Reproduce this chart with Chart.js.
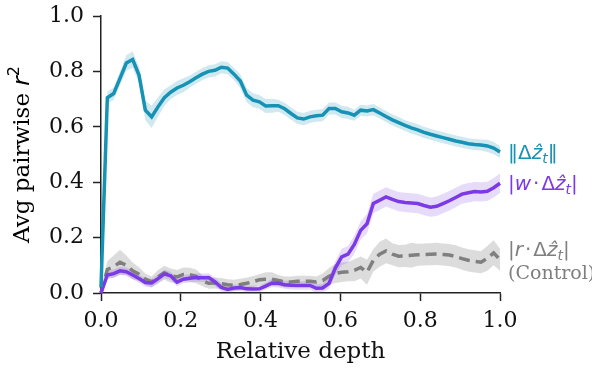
<!DOCTYPE html>
<html>
<head>
<meta charset="utf-8">
<script src="https://cdn.jsdelivr.net/npm/chart.js@4"></script>
<style>
  html, body { margin: 0; padding: 0; background: #fff; }
  #wrap { width: 592px; height: 369px; }
</style>
</head>
<body>
<div id="wrap"><canvas id="depthChart" width="592" height="369"></canvas></div>
<script>
// layer positions (64 layers spread over relative depth 0..1)
const depths = Array.from({ length: 64 }, (_, i) => i / 63);

const xTicks = [0, 0.2, 0.4, 0.6, 0.8, 1.0];
const yTicks = [0, 0.2, 0.4, 0.6, 0.8, 1.0];

// ||dz|| (cyan)
const normValues = [
    0.02, 0.705, 0.72, 0.775, 0.83, 0.843, 0.787, 0.66,
    0.636, 0.672, 0.705, 0.725, 0.74, 0.75, 0.763, 0.777,
    0.79, 0.80, 0.804, 0.815, 0.812, 0.79, 0.765, 0.714,
    0.696, 0.69, 0.675, 0.676, 0.676, 0.665, 0.648, 0.632,
    0.628, 0.636, 0.64, 0.642, 0.666, 0.666, 0.654, 0.65,
    0.642, 0.66, 0.657, 0.662, 0.65, 0.637, 0.625, 0.615,
    0.605, 0.596, 0.589, 0.58, 0.573, 0.567, 0.561, 0.555,
    0.549, 0.544, 0.539, 0.536, 0.534, 0.531, 0.523, 0.509
];
const normErr = [
    0.01, 0.022, 0.022, 0.025, 0.028, 0.03, 0.03, 0.035,
    0.04, 0.035, 0.03, 0.025, 0.025, 0.025, 0.022, 0.022,
    0.022, 0.022, 0.022, 0.022, 0.022, 0.022, 0.025, 0.025,
    0.025, 0.025, 0.025, 0.025, 0.022, 0.022, 0.022, 0.022,
    0.022, 0.022, 0.022, 0.022, 0.022, 0.022, 0.022, 0.022,
    0.02, 0.02, 0.02, 0.02, 0.02, 0.02, 0.02, 0.02,
    0.02, 0.02, 0.02, 0.02, 0.02, 0.02, 0.02, 0.02,
    0.02, 0.02, 0.02, 0.02, 0.02, 0.022, 0.022, 0.022
];

// |w . dz| (purple)
const wValues = [
    0.0, 0.065, 0.07, 0.08, 0.077, 0.065, 0.052, 0.038,
    0.036, 0.052, 0.069, 0.062, 0.039, 0.05, 0.053, 0.056,
    0.055, 0.056, 0.04, 0.02, 0.013, 0.018, 0.02, 0.015,
    0.014, 0.015, 0.025, 0.036, 0.035, 0.03, 0.028, 0.027,
    0.027, 0.027, 0.017, 0.018, 0.035, 0.09, 0.13, 0.14,
    0.175, 0.226, 0.25, 0.323, 0.335, 0.347, 0.338, 0.33,
    0.327, 0.325, 0.323, 0.316, 0.31, 0.313, 0.323, 0.333,
    0.345, 0.357, 0.362, 0.366, 0.365, 0.367, 0.38, 0.396
];
const wErr = [
    0.005, 0.015, 0.015, 0.015, 0.015, 0.015, 0.015, 0.015,
    0.015, 0.015, 0.015, 0.015, 0.015, 0.015, 0.015, 0.015,
    0.015, 0.015, 0.015, 0.015, 0.012, 0.012, 0.012, 0.012,
    0.012, 0.012, 0.012, 0.015, 0.015, 0.015, 0.015, 0.015,
    0.015, 0.015, 0.015, 0.015, 0.02, 0.025, 0.03, 0.03,
    0.033, 0.033, 0.035, 0.035, 0.035, 0.035, 0.035, 0.035,
    0.035, 0.035, 0.035, 0.035, 0.035, 0.035, 0.035, 0.035,
    0.035, 0.035, 0.035, 0.035, 0.035, 0.035, 0.035, 0.035
];

// |r . dz| control (grey, dashed)
const rValues = [
    0.0, 0.085, 0.095, 0.111, 0.1, 0.08, 0.068, 0.05,
    0.04, 0.058, 0.073, 0.063, 0.058, 0.067, 0.066, 0.06,
    0.045, 0.035, 0.036, 0.034, 0.03, 0.028, 0.031, 0.035,
    0.041, 0.048, 0.05, 0.05, 0.045, 0.04, 0.04, 0.042,
    0.042, 0.042, 0.04, 0.045, 0.06, 0.071, 0.075, 0.077,
    0.082, 0.092, 0.075, 0.118, 0.14, 0.152, 0.14, 0.133,
    0.134, 0.136, 0.138, 0.139, 0.14, 0.141, 0.139, 0.137,
    0.132, 0.124, 0.118, 0.114, 0.111, 0.125, 0.145, 0.12
];
const rErr = [
    0.01, 0.03, 0.04, 0.045, 0.035, 0.03, 0.025, 0.02,
    0.02, 0.025, 0.025, 0.025, 0.025, 0.025, 0.025, 0.025,
    0.02, 0.02, 0.02, 0.02, 0.02, 0.02, 0.02, 0.02,
    0.02, 0.02, 0.025, 0.025, 0.02, 0.02, 0.02, 0.02,
    0.02, 0.02, 0.02, 0.025, 0.03, 0.035, 0.035, 0.035,
    0.04, 0.04, 0.045, 0.04, 0.045, 0.045, 0.04, 0.04,
    0.04, 0.045, 0.04, 0.04, 0.04, 0.04, 0.04, 0.04,
    0.04, 0.04, 0.04, 0.04, 0.04, 0.045, 0.045, 0.04
];

const CYAN = "#1592b4";
const PURPLE = "#7b3ae6";
const GREY = "#7f7f7f";

const SERIF = "'DejaVu Serif', serif";
const SANS = "'DejaVu Sans', sans-serif";

function points(values, err, sign) {
    return depths.map((d, i) => ({ x: d, y: Math.max(0, values[i] + sign * err[i]) }));
}

function lineSet(values, color, dash) {
    return {
        data: depths.map((d, i) => ({ x: d, y: values[i] })),
        borderColor: color,
        borderWidth: 3.5,
        borderDash: dash || [],
        pointRadius: 0,
        tension: 0,
        fill: false,
        clip: 6
    };
}

function bandSet(values, err, sign, fillColor, fillTarget) {
    return {
        data: points(values, err, sign),
        borderWidth: 0,
        borderColor: "rgba(0,0,0,0)",
        pointRadius: 0,
        tension: 0,
        backgroundColor: fillColor,
        fill: fillTarget,
        clip: 6
    };
}

// lines first so they are drawn on top, bands afterwards
const datasets = [
    lineSet(normValues, CYAN),
    lineSet(wValues, PURPLE),
    lineSet(rValues, GREY, [11, 6]),
    bandSet(normValues, normErr, -1, "rgba(0,0,0,0)", false),
    bandSet(normValues, normErr, 1, "rgba(21,146,180,0.2)", 3),
    bandSet(wValues, wErr, -1, "rgba(0,0,0,0)", false),
    bandSet(wValues, wErr, 1, "rgba(123,58,230,0.18)", 5),
    bandSet(rValues, rErr, -1, "rgba(0,0,0,0)", false),
    bandSet(rValues, rErr, 1, "rgba(128,128,128,0.28)", 7)
];

// draw a row of text pieces (font, text, baseline shift) starting at x
function drawRuns(ctx, runs, x, y, color) {
    ctx.fillStyle = color;
    ctx.textAlign = "left";
    ctx.textBaseline = "alphabetic";
    let cx = x;
    runs.forEach(r => {
        ctx.font = r[0];
        ctx.fillText(r[1], cx, y + (r[2] || 0));
        cx += ctx.measureText(r[1]).width;
    });
    return cx - x;
}

function runsWidth(ctx, runs) {
    let w = 0;
    runs.forEach(r => { ctx.font = r[0]; w += ctx.measureText(r[1]).width; });
    return w;
}

const labelPlugin = {
    id: "labels",
    afterDraw(chart) {
        const ctx = chart.ctx;
        const area = chart.chartArea;
        const ys = chart.scales.y;
        const m = "20px " + SANS;
        const mi = "italic 20px " + SANS;
        const sub = "italic 14px " + SANS;
        const dot = "20px " + SANS;
        ctx.save();

        const x0 = area.right + 8;
        let y = ys.getPixelForValue(normValues[63]) + 7;
        drawRuns(ctx, [[m, "\u2016"], [m, "\u0394"], [mi, "\u1e91"], [sub, "t", 4], [m, "\u2016"]], x0, y, CYAN);

        y = ys.getPixelForValue(wValues[63]) + 7;
        drawRuns(ctx, [[m, "|"], [mi, "w"], [dot, "\u200a\u00b7\u200a"], [m, "\u0394"], [mi, "\u1e91"], [sub, "t", 4], [m, "|"]], x0, y, PURPLE);

        y = ys.getPixelForValue(rValues[63]);
        drawRuns(ctx, [[m, "|"], [mi, "r"], [dot, "\u200a\u00b7\u200a"], [m, "\u0394"], [mi, "\u1e91"], [sub, "t", 4], [m, "|"]], x0, y - 4, GREY);
        drawRuns(ctx, [["19px " + SERIF, "(Control)"]], x0, y + 19, GREY);

        // y axis title with italic r and superscript
        const yRuns = [["23px " + SERIF, "Avg pairwise "], ["italic 23px " + SANS, "r"], ["16px " + SANS, "2", -10]];
        const w = runsWidth(ctx, yRuns);
        ctx.translate(29, (area.top + area.bottom) / 2);
        ctx.rotate(-Math.PI / 2);
        drawRuns(ctx, yRuns, -w / 2, 0, "#000");
        ctx.restore();
    }
};

const ctx = document.getElementById("depthChart").getContext("2d");
const depthChart = new Chart(ctx, {
    type: "line",
    data: { datasets: datasets },
    options: {
        responsive: false,
        animation: false,
        devicePixelRatio: 1,
        layout: { padding: { top: 16, right: 92, left: 0, bottom: 0 } },
        plugins: {
            legend: { display: false },
            tooltip: { enabled: false },
            title: { display: false }
        },
        scales: {
            x: {
                type: "linear",
                min: 0,
                max: 1,
                afterBuildTicks: s => { s.ticks = xTicks.map(v => ({ value: v })); },
                afterFit: s => { s.height = 76; s.paddingLeft = 0; s.paddingRight = 0; },
                border: { display: true, color: "#222", width: 1.5 },
                grid: { drawOnChartArea: false, drawTicks: true, tickLength: 8, tickColor: "#222", tickWidth: 1.5 },
                ticks: {
                    color: "#111",
                    font: { family: SERIF, size: 22 },
                    padding: 7,
                    maxRotation: 0,
                    callback: v => v.toFixed(1)
                },
                title: {
                    display: true,
                    text: "Relative depth",
                    color: "#111",
                    font: { family: SERIF, size: 23 },
                    padding: { top: 0, bottom: 3 }
                }
            },
            y: {
                type: "linear",
                min: 0,
                max: 1,
                afterBuildTicks: s => { s.ticks = yTicks.map(v => ({ value: v })); },
                afterFit: s => { s.width = 101; s.paddingTop = 0; s.paddingBottom = 0; },
                border: { display: true, color: "#222", width: 1.5 },
                grid: { drawOnChartArea: false, drawTicks: true, tickLength: 8, tickColor: "#222", tickWidth: 1.5 },
                ticks: {
                    color: "#111",
                    font: { family: SERIF, size: 22 },
                    padding: 9,
                    callback: v => v.toFixed(1)
                }
            }
        }
    },
    plugins: [labelPlugin]
});
</script>
</body>
</html>
